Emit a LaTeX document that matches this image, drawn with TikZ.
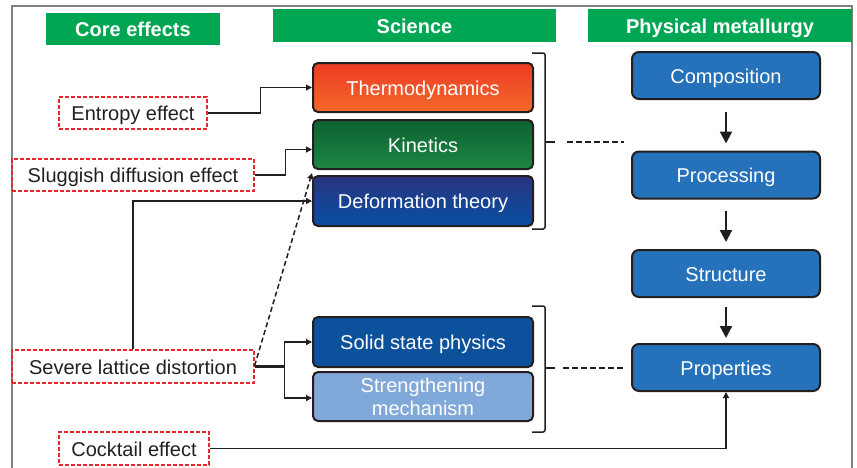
\documentclass[tikz,border=0pt]{standalone}
\usepackage{fontspec}
\setmainfont{Liberation Sans}
\usetikzlibrary{arrows.meta,calc}

\definecolor{hdrgreen}{HTML}{00A651}
\definecolor{boxedge}{HTML}{231F20}
\definecolor{effred}{HTML}{E8262B}
\definecolor{txtdark}{HTML}{231F20}
\definecolor{thtop}{HTML}{EE3A24}
\definecolor{thbot}{HTML}{F36A2C}
\definecolor{kitop}{HTML}{0C6331}
\definecolor{kibot}{HTML}{1F8544}
\definecolor{detop}{HTML}{28347F}
\definecolor{debot}{HTML}{0A4FA3}
\definecolor{ssblue}{HTML}{0B519B}
\definecolor{stblue}{HTML}{80A8D9}
\definecolor{pmblue}{HTML}{2572BA}
\definecolor{framegray}{HTML}{808080}

\tikzset{
  txt/.style={font=\fontsize{20}{23}\selectfont},
  oneline/.style={text height=15.5pt, text depth=0pt},
  hdr/.style={oneline, fill=hdrgreen, text=white, inner sep=0pt,
    font=\fontsize{20}{23}\selectfont\bfseries},
  scibox/.style={txt, draw=boxedge, line width=2pt, rounded corners=5pt,
    text=white, minimum width=220pt, minimum height=49pt, inner sep=0pt, align=center},
  pmbox/.style={txt, oneline, draw=boxedge, line width=2pt, rounded corners=7pt,
    fill=pmblue, text=white, minimum width=188pt, minimum height=47pt, inner sep=0pt},
  effbox/.style={txt, oneline, draw=effred, line width=1.3pt, dash pattern=on 4pt off 2pt,
    text=txtdark, minimum height=32pt, inner sep=0pt},
  conn/.style={draw=boxedge, line width=1.3pt, -{Triangle[length=6pt,width=6pt]}},
  flow/.style={draw=boxedge, line width=2.2pt, -{Triangle[length=12pt,width=12pt]}},
  link/.style={draw=boxedge, line width=2pt, dash pattern=on 6pt off 3pt},
  bracket/.style={draw=boxedge, line width=1.5pt, rounded corners=2pt},
}

\begin{document}
\begin{tikzpicture}[x=1pt, y=-1pt]
  \useasboundingbox (0,0) rectangle (857,467);

  % outer frame
  \begin{scope}
    \clip (0,0) rectangle (857,467);
    \draw[framegray, line width=1.4pt] (12,480) -- (12,6) -- (852,6) -- (852,480);
  \end{scope}

  % column headers
  \node[hdr, minimum width=174pt, minimum height=32pt] (hcore) at (133,29) {Core effects};
  \node[hdr, minimum width=283pt, minimum height=33pt] (hsci) at (414.5,25.5) {Science};
  \node[hdr, minimum width=264pt, minimum height=33pt] (hpm) at (720,25.5) {Physical metallurgy};

  % science boxes
  \node[scibox, oneline, top color=thtop, bottom color=thbot] (thermo) at (423,87.5) {Thermodynamics};
  \node[scibox, oneline, top color=kitop, bottom color=kibot] (kin) at (423,144.5) {Kinetics};
  \node[scibox, oneline, top color=detop, bottom color=debot, minimum height=50pt] (def) at (423,201) {Deformation theory};
  \node[scibox, oneline, fill=ssblue, minimum height=50pt] (ssp) at (423,342) {Solid state physics};
  \node[scibox, fill=stblue] (str) at (423,396.5) {Strengthening\\mechanism};

  % physical metallurgy chain
  \node[pmbox] (comp) at (726,75.5) {Composition};
  \node[pmbox] (proc) at (726,175) {Processing};
  \node[pmbox] (struc) at (726,273.5) {Structure};
  \node[pmbox] (prop) at (726,367.5) {Properties};

  \draw[flow] ([yshift=-12pt]comp.south) -- ([yshift=7pt]proc.north);
  \draw[flow] ([yshift=-11pt]proc.south) -- ([yshift=7pt]struc.north);
  \draw[flow] ([yshift=-9pt]struc.south) -- ([yshift=5pt]prop.north);

  % core effects
  \node[effbox, minimum width=148pt] (ent) at (133,113) {Entropy effect};
  \node[effbox, minimum width=242pt] (slug) at (133,175) {Sluggish diffusion effect};
  \node[effbox, minimum width=242pt, minimum height=33pt] (sev) at (133,366.5) {Severe lattice distortion};
  \node[effbox, minimum width=150pt, minimum height=33pt] (cock) at (134,448.5) {Cocktail effect};

  % braces grouping the science boxes
  \draw[bracket] (532,53) -- (545,53) -- (545,229) -- (532,229);
  \draw[boxedge, line width=1.5pt] (545,142) -- (555,142) coordinate (braceA);
  \draw[bracket] (532,306) -- (545,306) -- (545,432) -- (532,432);
  \draw[boxedge, line width=1.5pt] (545,368) -- (555,368) coordinate (braceB);

  \coordinate (linkA) at (624,142);
  \coordinate (linkB) at (623,368);
  \draw[link] ($(braceA)+(12,0)$) -- (linkA);
  \draw[link] ($(braceB)+(8,0)$) -- (linkB);

  % connectors from the core effects
  \draw[conn] (ent.east) -- ++(53,0) |- (thermo.west);
  \draw[conn] (slug.east) -- ++(31,0) |- ($(kin.west)+(0,5)$);
  \draw[conn] (sev.north) |- (def.west);
  \draw[conn, line width=1.5pt, dash pattern=on 5pt off 3pt] ($(sev.east)+(0,-1)$) -- ($(kin.south west)+(0,3)$);
  \draw[boxedge, line width=2.2pt] (sev.east) -- ++(30,0) coordinate (split);
  \draw[conn] (split) |- (ssp.west);
  \draw[conn] (split) |- ($(str.west)+(0,1.5)$);
  \draw[conn] (cock.east) -| (prop.south);
\end{tikzpicture}
\end{document}
